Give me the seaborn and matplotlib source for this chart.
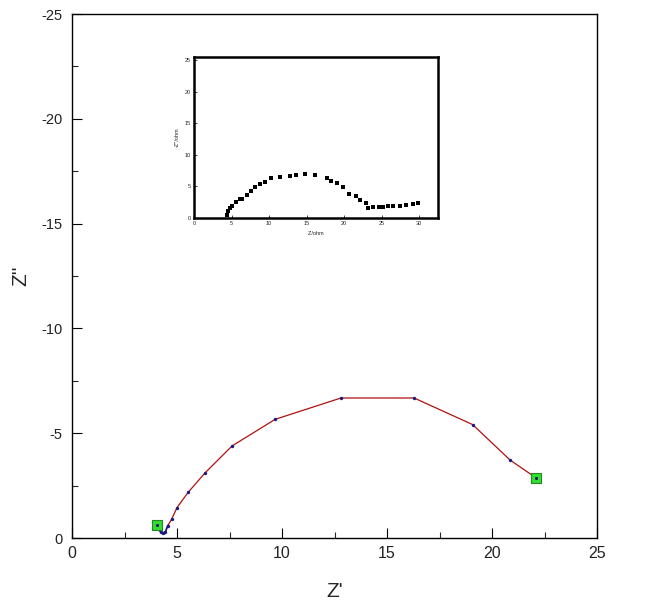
import numpy as np
import pandas as pd
import matplotlib
matplotlib.use("Agg")
import matplotlib.pyplot as plt
import seaborn as sns
from matplotlib.ticker import MultipleLocator

# main Nyquist curve (Z' in ohm, Z'' in ohm)
z_real = [4.03, 4.12, 4.22, 4.33, 4.45, 4.56, 4.75, 5.00, 5.54, 6.33, 7.62,
          9.67, 12.81, 16.29, 19.08, 20.86, 22.08]
z_imag = [-0.62, -0.45, -0.28, -0.22, -0.30, -0.59, -0.91, -1.45, -2.19, -3.10,
          -4.39, -5.66, -6.68, -6.68, -5.41, -3.72, -2.88]
n_blue = 6  # first segment drawn in dark blue

# inset measurement (Z'/ohm, -Z''/ohm)
ins_x = [4.34, 4.56, 4.78, 5.0, 5.53, 6.1, 6.42, 7.08, 7.61, 8.19, 8.85, 9.5,
         10.3, 11.5, 12.74, 13.63, 14.73, 16.15, 17.7, 18.2, 19.0, 19.8, 20.7,
         21.55, 22.1, 22.9, 23.2, 23.9, 24.6, 25.2, 25.9, 26.5, 27.4, 28.3,
         29.2, 29.9]
ins_y = [0.41, 1.03, 1.54, 1.95, 2.56, 2.97, 3.08, 3.59, 4.2, 4.87, 5.38, 5.74,
         6.36, 6.5, 6.67, 6.87, 6.92, 6.77, 6.4, 5.9, 5.54, 4.87, 3.74, 3.49,
         2.82, 2.41, 1.64, 1.69, 1.74, 1.74, 1.85, 1.85, 1.85, 2.0, 2.26, 2.41]

sns.set_style("ticks")
plt.rcParams['font.family'] = ['Liberation Sans', 'DejaVu Sans']
plt.rcParams['axes.unicode_minus'] = False

main = pd.DataFrame({'zr': z_real, 'zi': z_imag})
inset = pd.DataFrame({'x': ins_x, 'y': ins_y})

fig = plt.figure(figsize=(6.5, 6.1), dpi=100)
ax = fig.add_axes([72/650, 1 - 538/610, 525/650, 524/610])

sns.lineplot(data=main.iloc[n_blue - 1:], x='zr', y='zi', sort=False, estimator=None,
             color='#b01010', lw=0.9, ax=ax)
sns.lineplot(data=main.iloc[:n_blue], x='zr', y='zi', sort=False, estimator=None,
             color='#1a1a80', lw=1.3, ax=ax)
sns.scatterplot(data=main.iloc[1:-1], x='zr', y='zi', color='#1a1a80', s=6,
                linewidth=0, ax=ax, zorder=4)
sns.scatterplot(data=main.iloc[[0, -1]], x='zr', y='zi', marker='s', s=55,
                color='#33dd33', edgecolor='#228822', linewidth=0.8, ax=ax, zorder=5)
sns.scatterplot(data=main.iloc[[0, -1]], x='zr', y='zi', color='#1a1a60', s=5,
                linewidth=0, ax=ax, zorder=6)

ax.set_xlim(0, 25)
ax.set_ylim(0, -25)
ax.xaxis.set_major_locator(MultipleLocator(5))
ax.xaxis.set_minor_locator(MultipleLocator(2.5))
ax.yaxis.set_major_locator(MultipleLocator(5))
ax.yaxis.set_minor_locator(MultipleLocator(2.5))
ax.tick_params(which='major', direction='in', length=7.5, width=0.8,
               color='black', labelcolor='#222222')
ax.tick_params(which='minor', direction='in', length=4.3, width=0.8)
ax.tick_params(axis='x', pad=6, labelsize=11.5)
ax.tick_params(axis='y', pad=7, labelsize=10.5)
for s in ax.spines.values():
    s.set_linewidth(1.0)
    s.set_color('black')
ax.set_xlabel("Z'", fontsize=15, labelpad=15)
ax.set_ylabel("Z''", fontsize=15, labelpad=8)

# inset
axi = fig.add_axes([194/650, 1 - 218/610, 244/650, 161/610])
sns.scatterplot(data=inset, x='x', y='y', marker='s', s=10, color='black',
                linewidth=0, ax=axi)
axi.set_xlim(0, 32.5)
axi.set_ylim(0, 25.5)
axi.xaxis.set_major_locator(MultipleLocator(5))
axi.yaxis.set_major_locator(MultipleLocator(5))
axi.tick_params(direction='in', length=2, width=0.6, labelsize=4, pad=2.5)
for s in axi.spines.values():
    s.set_linewidth(1.8)
    s.set_color('black')
axi.set_xlabel("Z'/ohm", fontsize=4, labelpad=3)
axi.set_ylabel("-Z''/ohm", fontsize=4, labelpad=3)

fig.savefig('out.png', dpi=100)
